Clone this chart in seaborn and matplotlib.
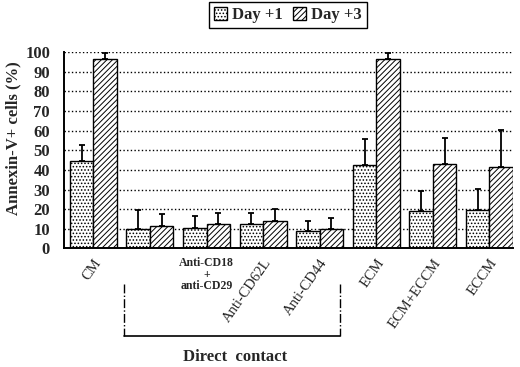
import seaborn as sns
import matplotlib.pyplot as plt
import pandas as pd
from matplotlib.patches import Patch

# data
groups = ["CM", "Blank", "Anti-CD18+anti-CD29", "Anti-CD62L", "Anti-CD44", "ECM", "ECM+ECCM", "ECCM"]
tick_labels = ["CM", "", "", "Anti-CD62L", "Anti-CD44", "ECM", "ECM+ECCM", "ECCM"]
day1 = [44.3, 10.0, 10.5, 12.4, 8.7, 42.6, 19.0, 19.4]
day1_err = [8.5, 9.4, 5.8, 5.8, 5.4, 13.1, 10.4, 10.8]
day3 = [96.3, 11.4, 12.4, 14.1, 9.8, 96.6, 42.8, 41.6]
day3_err = [3.5, 5.9, 5.9, 5.8, 5.5, 2.7, 13.6, 18.7]
hue_names = ["Day +1", "Day +3"]

df = pd.DataFrame({
    "group": groups * 2,
    "day": [hue_names[0]] * len(groups) + [hue_names[1]] * len(groups),
    "value": day1 + day3,
})

sns.set_theme(style="white")
plt.rcParams['font.family'] = ['Liberation Serif', 'DejaVu Serif']
plt.rcParams['hatch.linewidth'] = 0.7

fig = plt.figure(figsize=(5.2, 3.67), dpi=100)
ax = fig.add_axes([0.123, 0.323, 0.8635, 0.535])

sns.barplot(data=df, x="group", y="value", hue="day", order=groups,
            hue_order=hue_names, errorbar=None, width=0.83, gap=0,
            color="white", edgecolor="black", linewidth=1.0, ax=ax, legend=False)

hatches = [".....", "//////"]
errs = day1_err + day3_err
bars = [p for p in ax.patches if p.get_height() > 0]
for i, p in enumerate(bars):
    p.set_facecolor("white")
    p.set_hatch(hatches[i // len(groups)])
    xc = p.get_x() + p.get_width() / 2
    ax.errorbar(xc, p.get_height(), yerr=[[0], [errs[i]]], fmt="none",
                ecolor="black", elinewidth=1.3, capsize=2.5, capthick=1.3)

ax.set_ylim(0, 100)
ax.set_xlim(-0.52, 7.415)
ax.set_yticks(range(0, 101, 10))
ax.yaxis.grid(True, linestyle=":", color="black", linewidth=1.0)
ax.set_axisbelow(True)
for s in ["top", "right"]:
    ax.spines[s].set_visible(False)
for s in ["left", "bottom"]:
    ax.spines[s].set_color("black")
    ax.spines[s].set_linewidth(1.4)

ax.tick_params(axis="y", length=0, pad=10, labelsize=12)
for t in ax.get_yticklabels():
    t.set_fontweight("bold")
ax.set_xticks(range(len(groups)))
ax.set_xticklabels(tick_labels, rotation=55, ha="right", rotation_mode="anchor", fontsize=10.5)
ax.tick_params(axis="x", length=0, pad=6)
ax.set_xlabel("")
ax.set_ylabel("Annexin-V+ cells (%)", fontsize=12, fontweight="bold")
ax.yaxis.set_label_coords(-0.095, 0.56)

# stacked label for the combined antibody group
trans = ax.get_xaxis_transform()
ax.text(2, -0.045, "Anti-CD18\n+\nanti-CD29", transform=trans, ha="center", va="top",
        fontsize=8.5, fontweight="bold", linespacing=0.95)

# bracket for the direct contact groups
ax.plot([0.54, 0.54], [-0.18, -0.445], transform=trans, color="black", lw=1, ls="-.", clip_on=False)
ax.plot([4.36, 4.36], [-0.18, -0.445], transform=trans, color="black", lw=1, ls="-.", clip_on=False)
ax.plot([0.54, 4.36], [-0.445, -0.445], transform=trans, color="black", lw=1.2, clip_on=False)
ax.text(2.5, -0.552, "Direct  contact", transform=trans, ha="center", va="center",
        fontsize=12, fontweight="bold")

# legend
handles = [Patch(facecolor="white", edgecolor="black", hatch=h) for h in hatches]
leg = fig.legend(handles, hue_names, loc="center", bbox_to_anchor=(0.554, 0.959), ncol=2,
                 fancybox=False, edgecolor="black", framealpha=1, handlelength=0.8,
                 handleheight=0.8, columnspacing=0.6, handletextpad=0.3,
                 borderpad=0.3, prop={"size": 12, "weight": "bold"})
leg.get_frame().set_linewidth(1.0)

plt.savefig("out.png", dpi=100)
